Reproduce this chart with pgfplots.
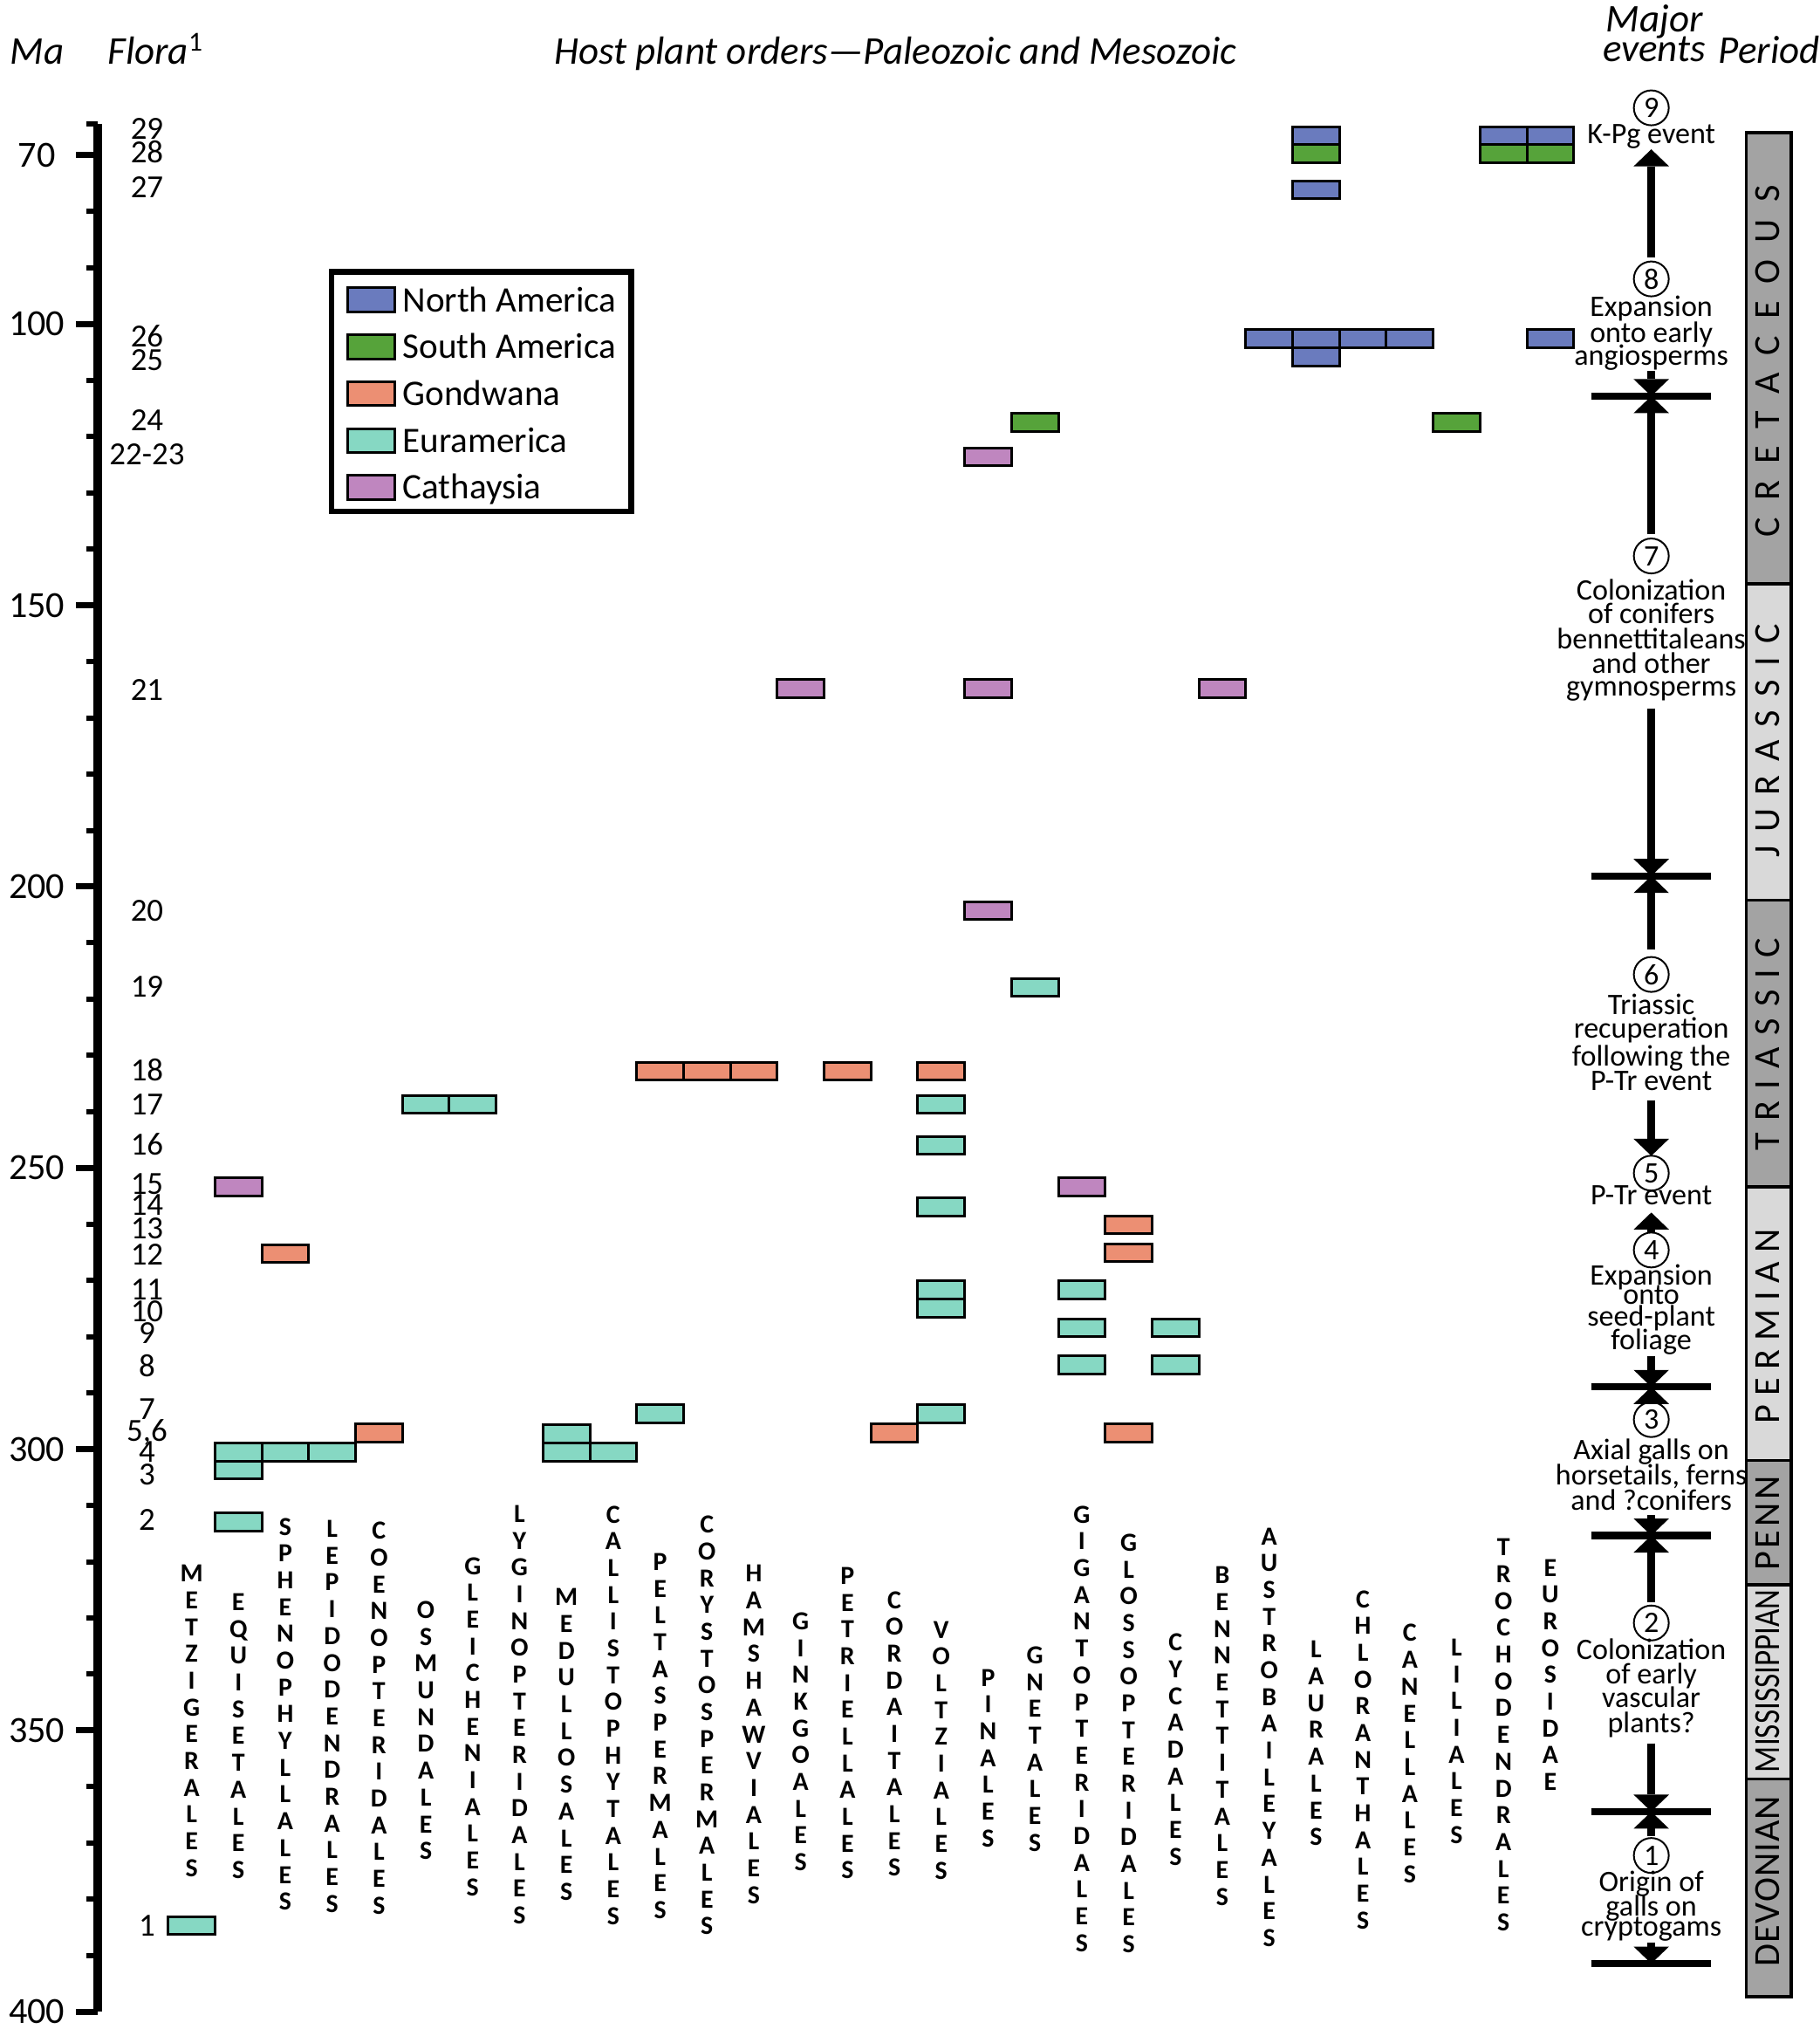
\documentclass[border=0pt]{standalone}
\usepackage{fontspec}
\setmainfont{Carlito}
\usepackage{graphicx}
\usepackage{pgfplots}
\pgfplotsset{compat=1.18}
\usetikzlibrary{arrows.meta}

\definecolor{naBlue}{HTML}{6A7BBE}
\definecolor{saGreen}{HTML}{56A33A}
\definecolor{gondSalmon}{HTML}{EC8F73}
\definecolor{euraTeal}{HTML}{86D8C3}
\definecolor{cathPurple}{HTML}{BF86BF}
\definecolor{pDark}{HTML}{A3A3A3}
\definecolor{pLight}{HTML}{D9D9D9}

% one occurrence box: one column wide, fixed height
\pgfdeclareplotmark{cell}{%
  \pgfpathrectangle{\pgfqpoint{-2.685mm}{-1.025mm}}{\pgfqpoint{5.37mm}{2.05mm}}%
  \pgfusepathqfillstroke}

\ExplSyntaxOn
\NewDocumentCommand \vstack { m }
  {
    \seq_clear:N \l_tmpa_seq
    \tl_map_inline:nn {#1} { \seq_put_right:Nn \l_tmpa_seq {##1} }
    \seq_use:Nn \l_tmpa_seq { \\ }
  }
\ExplSyntaxOff

\newcommand\tickfont{\fontsize{12}{14}\selectfont}
\newcommand\titfont{\fontsize{12.8}{15}\selectfont\itshape}
\newcommand\florafont{\fontsize{10.5}{12}\selectfont}
\newcommand\legfont{\fontsize{11.7}{14}\selectfont}
\newcommand\evfont{\fontsize{9.7}{11}\selectfont}
\newcommand\labfont{\fontsize{8.5}{8.73}\selectfont\bfseries}
\newcommand\perfont{\fontsize{12}{14}\selectfont}

\newcommand\evl[2]{\node[anchor=base,inner sep=0pt,font=\evfont] at (axis cs:31.155,#1) {#2};}
\newcommand\evc[2]{\node[circle,draw,line width=0.2mm,minimum size=4mm,inner sep=0pt,font=\evfont] at (axis cs:31.155,#1) {#2};}
\newcommand\flo[2]{\node[anchor=base,inner sep=0pt,font=\florafont] at (axis cs:-0.952,#1) {#2};}
\newcommand\ord[3]{\node[align=center,inner sep=0pt,font=\labfont] at (axis cs:#1,#2) {\vstack{#3}};}
\newcommand\evbar[1]{\addplot[forget plot,black,line width=0.84mm] coordinates {(29.87,#1) (32.42,#1)};}
\newcommand\evarr[2]{\addplot[forget plot,black,line width=0.84mm,-{Triangle[length=1.95mm,width=4.06mm,line width=0pt]}] coordinates {(31.155,#1) (31.155,#2)};}
\newcommand\per[3]{\addplot[forget plot,fill=#1,draw=black,line width=0.35mm] coordinates {(33.18,#2) (34.145,#2) (34.145,#3) (33.18,#3)} --cycle;}

\pgfplotsset{legbox/.style={legend image code/.code={%
  \draw[fill=#1,draw=black,line width=0.3mm] (0mm,-1.623mm) rectangle (5.4mm,1.127mm);}}}

\begin{document}
\begin{tikzpicture}
\begin{axis}[
  scale only axis, width=197.08mm, height=216.33mm,
  xmin=-2, xmax=34.7, ymin=64.4, ymax=400, y dir=reverse,
  clip=false,
  axis x line=none, axis y line*=left,
  y axis line style={-, line width=1mm, black},
  ytick={70,100,150,200,250,300,350,400},
  minor ytick={64.4,80,90,110,120,130,140,160,170,180,190,210,220,230,240,260,270,280,290,310,320,330,340,360,370,380,390},
  tick align=outside,
  major tick length=2.5mm, minor tick length=1.3mm,
  major tick style={line width=0.7mm, black},
  minor tick style={line width=0.6mm, black},
  /pgf/number format/assume math mode=true,
  yticklabel style={font=\tickfont, anchor=center, xshift=-4.5mm},
  legend cell align=left,
  legend style={at={(axis cs:2.93,90.2)}, anchor=north west, draw=black,
    line width=0.65mm, fill=white, inner xsep=1.7mm, inner ysep=0.865mm,
    row sep=1.14mm, column sep=0.74mm, font=\legfont,
    nodes={inner sep=0pt, text height=3.7mm, text depth=0.53mm}},
]

% galls by host order (x = order column, y = Ma)
\addplot[only marks, mark=cell, mark options={fill=naBlue, draw=black, line width=0.3mm}, legbox=naBlue]
  coordinates {(23,102.6) (24,66.5) (24,76.1) (24,102.6) (24,105.8) (25,102.6) (26,102.6) (28,66.5) (29,66.5) (29,102.6)};
\addlegendentry{North America}
\addplot[only marks, mark=cell, mark options={fill=saGreen, draw=black, line width=0.3mm}, legbox=saGreen]
  coordinates {(18,117.5) (24,69.7) (27,117.5) (28,69.7) (29,69.7)};
\addlegendentry{South America}
\addplot[only marks, mark=cell, mark options={fill=gondSalmon, draw=black, line width=0.3mm}, legbox=gondSalmon]
  coordinates {(2,265.2) (4,297.1) (10,232.8) (11,232.8) (12,232.8) (14,232.8) (15,297.1) (16,232.8) (20,260.1) (20,265.1) (20,297.1)};
\addlegendentry{Gondwana}
\addplot[only marks, mark=cell, mark options={fill=euraTeal, draw=black, line width=0.3mm}, legbox=euraTeal]
  coordinates {(0,384.7) (1,300.5) (1,303.7) (1,312.9) (2,300.5) (3,300.5) (5,238.7) (6,238.7) (8,297.3) (8,300.5) (9,300.5) (10,293.7)
    (16,238.7) (16,246.0) (16,256.9) (16,271.7) (16,274.9) (16,293.7) (18,217.9) (19,271.7) (19,278.4) (19,285.0) (21,278.4) (21,285.0)};
\addlegendentry{Euramerica}
\addplot[only marks, mark=cell, mark options={fill=cathPurple, draw=black, line width=0.3mm}, legbox=cathPurple]
  coordinates {(1,253.4) (13,164.8) (17,123.6) (17,164.8) (17,204.3) (19,253.4) (22,164.8)};
\addlegendentry{Cathaysia}

% column headings
\node[anchor=base,inner sep=0pt,font=\titfont] at (axis cs:-3.298,53.79) {Ma};
\node[anchor=base west,inner sep=0pt,font=\titfont] at (axis cs:-1.804,53.79) {Flora\textsuperscript{\upshape 1}};
\node[anchor=base,inner sep=0pt,font=\titfont] at (axis cs:15.026,53.79) {Host plant orders—Paleozoic and Mesozoic};
\node[anchor=base,inner sep=0pt,font=\titfont] at (axis cs:31.22,48.03) {Major};
\node[anchor=base,inner sep=0pt,font=\titfont] at (axis cs:31.22,53.37) {events};
\node[anchor=base,inner sep=0pt,font=\titfont] at (axis cs:33.67,53.66) {Period};

% flora numbers
\flo{67.08}{29} \flo{71.38}{28} \flo{77.58}{27} \flo{103.98}{26} \flo{108.28}{25}
\flo{118.98}{24} \flo{124.98}{22-23} \flo{166.88}{21} \flo{206.08}{20} \flo{219.68}{19}
\flo{234.48}{18} \flo{240.58}{17} \flo{247.78}{16} \flo{254.68}{15} \flo{258.48}{14}
\flo{262.58}{13} \flo{267.28}{12} \flo{273.48}{11} \flo{277.38}{10} \flo{281.28}{9}
\flo{287.18}{8} \flo{294.68}{7} \flo{298.58}{5,6} \flo{302.28}{4} \flo{306.28}{3}
\flo{314.48}{2} \flo{386.48}{1}

% host plant orders
\ord{0}{348.3}{METZIGERALES} \ord{1}{351.0}{EQUISETALES} \ord{2}{347.1}{SPHENOPHYLLALES}
\ord{3}{347.5}{LEPIDODENDRALES} \ord{4}{347.8}{COENOPTERIDALES} \ord{5}{350.0}{OSMUNDALES}
\ord{6}{349.3}{GLEICHENIALES} \ord{7}{347.2}{LYGINOPTERIDALES} \ord{8}{352.5}{MEDULLOSALES}
\ord{9}{347.3}{CALLISTOPHYTALES} \ord{10}{351.0}{PELTASPERMALES} \ord{11}{349.1}{CORYSTOSPERMALES}
\ord{12}{350.7}{HAMSHAWVIALES} \ord{13}{352.0}{GINKGOALES} \ord{14}{348.7}{PETRIELLALES}
\ord{15}{350.6}{CORDAITALES} \ord{16}{353.5}{VOLTZIALES} \ord{17}{354.9}{PINALES}
\ord{18}{353.3}{GNETALES} \ord{19}{349.7}{GIGANTOPTERIDALES} \ord{20}{352.3}{GLOSSOPTERIDALES}
\ord{21}{353.4}{CYCADALES} \ord{22}{351.0}{BENNETTITALES} \ord{23}{351.2}{AUSTROBAILEYALES}
\ord{24}{352.3}{LAURALES} \ord{25}{355.2}{CHLORANTHALES} \ord{26}{354.1}{CANELLALES}
\ord{27}{351.9}{LILIALES} \ord{28}{350.8}{TROCHODENDRALES} \ord{29}{340.1}{EUROSIDAE}

% major events
\evbar{112.80} \evbar{198.10} \evbar{288.93} \evbar{315.35} \evbar{364.43} \evbar{391.44}
\evarr{88.10}{68.93}
\evarr{108.32}{112.80} \evarr{137.33}{112.80}
\evarr{168.42}{198.10} \evarr{211.17}{198.10}
\evarr{238.04}{247.85}
\evarr{261.44}{257.93}
\evarr{283.46}{288.93} \evarr{291.64}{288.93}
\evarr{311.67}{315.35} \evarr{327.22}{315.35}
\evarr{352.27}{364.43} \evarr{368.77}{364.43}
\evarr{387.71}{391.44}

\evc{61.56}{9} \evl{67.92}{K-Pg event}
\evc{91.97}{8} \evl{98.61}{Expansion} \evl{103.25}{onto early} \evl{107.28}{angiosperms}
\evc{141.22}{7} \evl{149.01}{Colonization} \evl{153.28}{of conifers} \evl{157.73}{bennettitaleans}
  \evl{162.07}{and other} \evl{166.04}{gymnosperms}
\evc{215.61}{6} \evl{222.75}{Triassic} \evl{226.90}{recuperation} \evl{231.81}{following the}
  \evl{236.27}{P-Tr event}
\evc{250.93}{5} \evl{256.56}{P-Tr event}
\evc{264.59}{4} \evl{270.82}{Expansion} \evl{274.27}{onto} \evl{278.13}{seed-plant} \evl{282.27}{foliage}
\evc{294.74}{3} \evl{301.86}{Axial galls on} \evl{306.31}{horsetails, ferns} \evl{310.77}{and ?conifers}
\evc{330.89}{2} \evl{337.42}{Colonization} \evl{341.75}{of early} \evl{345.91}{vascular} \evl{350.36}{plants?}
\evc{372.22}{1} \evl{378.57}{Origin of} \evl{383.02}{galls on} \evl{386.59}{cryptogams}

% periods
\per{pDark}{66.0}{146.2}
\per{pLight}{146.2}{202.4}
\per{pDark}{202.4}{253.4}
\per{pLight}{253.4}{302.0}
\per{pDark}{302.0}{324.1}
\per{pLight}{324.1}{358.6}
\per{pDark}{358.6}{397.3}
\node[rotate=90,inner sep=0pt,font=\perfont] at (axis cs:33.645,106.6) {\makebox[40.3mm]{C\hfill R\hfill E\hfill T\hfill A\hfill C\hfill E\hfill O\hfill U\hfill S}};
\node[rotate=90,inner sep=0pt,font=\perfont] at (axis cs:33.645,174.06) {\makebox[26.8mm]{J\hfill U\hfill R\hfill A\hfill S\hfill S\hfill I\hfill C}};
\node[rotate=90,inner sep=0pt,font=\perfont] at (axis cs:33.645,228.0) {\makebox[24.4mm]{T\hfill R\hfill I\hfill A\hfill S\hfill S\hfill I\hfill C}};
\node[rotate=90,inner sep=0pt,font=\perfont] at (axis cs:33.645,278.2) {\makebox[22.3mm]{P\hfill E\hfill R\hfill M\hfill I\hfill A\hfill N}};
\node[rotate=90,inner sep=0pt,font=\perfont] at (axis cs:33.645,313.2) {\makebox[10.8mm]{P\hfill E\hfill N\hfill N}};
\node[rotate=90,inner sep=0pt,font=\perfont] at (axis cs:33.645,341.2) {\scalebox{0.835}[1]{MISSISSIPPIAN}};
\node[rotate=90,inner sep=0pt,font=\perfont] at (axis cs:33.645,376.8) {\makebox[19.5mm]{D\hfill E\hfill V\hfill O\hfill N\hfill I\hfill A\hfill N}};

\coordinate (pgTL) at (axis cs:-4.089,42.39);
\coordinate (pgBR) at (axis cs:34.737,403.07);
\end{axis}
\pgfresetboundingbox
\useasboundingbox (pgTL) rectangle (pgBR);
\end{tikzpicture}
\end{document}
